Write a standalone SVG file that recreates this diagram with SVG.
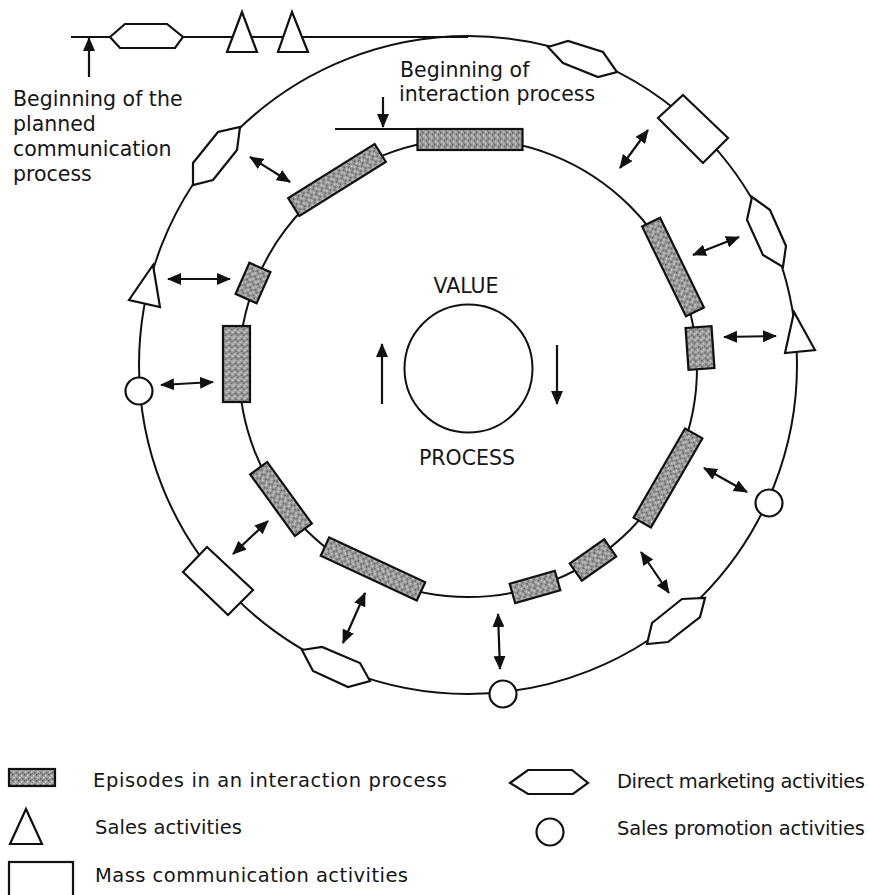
<svg xmlns="http://www.w3.org/2000/svg" width="870" height="895" viewBox="0 0 870 895">
  <defs>
    <style>
      .ring { fill: none; stroke: #111; stroke-width: 2; }
      .act { fill: #fff; stroke: #111; stroke-width: 2.2; stroke-linejoin: miter; }
      .ep { fill: url(#stipple); stroke: #111; stroke-width: 2.2; }
      .arr { fill: none; stroke: #111; stroke-width: 2.2; marker-start: url(#ah); marker-end: url(#ah); }
      .one { fill: none; stroke: #111; stroke-width: 2.2; marker-end: url(#ah); }
      .lbl { font-family: "DejaVu Sans", "Liberation Sans", sans-serif; font-size: 20.5px; fill: #161616; }
      .leg { font-family: "DejaVu Sans", "Liberation Sans", sans-serif; font-size: 19.5px; fill: #161616; }
      .mid { text-anchor: middle; }
    </style>
    <pattern id="stipple" width="6" height="6" patternUnits="userSpaceOnUse">
      <rect width="6" height="6" fill="#9c9c9c"/>
      <rect x="0" y="0" width="1.5" height="1.5" fill="#555"/>
      <rect x="3" y="1" width="1.5" height="1.5" fill="#d6d6d6"/>
      <rect x="1" y="3" width="1.5" height="1.5" fill="#d0d0d0"/>
      <rect x="4" y="4" width="1.5" height="1.5" fill="#5e5e5e"/>
      <rect x="2" y="5" width="1" height="1" fill="#767676"/>
    </pattern>
    <marker id="ah" viewBox="0 0 14 12" refX="13" refY="6" markerWidth="14" markerHeight="12" markerUnits="userSpaceOnUse" orient="auto-start-reverse">
      <path d="M0,0 L14,6 L0,12 z" fill="#111"/>
    </marker>
  </defs>

  <rect width="870" height="895" fill="#fff"/>

  <!-- rings -->
  <g id="rings">
    <line class="ring" x1="71" y1="37" x2="468" y2="37"/>
    <circle id="outer-ring" class="ring" cx="468" cy="365" r="329"/>
    <circle id="inner-ring" class="ring" cx="468" cy="368" r="229"/>
    <circle id="value-circle" class="ring" cx="468.5" cy="368.5" r="64"/>
  </g>

  <!-- connectors -->
  <g id="connectors">
    <line class="one" x1="89" y1="77" x2="89" y2="38"/>
    <line class="one" x1="383" y1="97" x2="383" y2="127"/>
    <line class="ring" x1="335" y1="129" x2="418" y2="129"/>
    <line class="one" x1="382" y1="404" x2="382" y2="344"/>
    <line class="one" x1="557" y1="345" x2="557" y2="404"/>
    <line class="arr" x1="250" y1="157" x2="290" y2="182"/>
    <line class="arr" x1="620" y1="168" x2="648" y2="130"/>
    <line class="arr" x1="168" y1="279" x2="230" y2="279"/>
    <line class="arr" x1="161" y1="385" x2="213" y2="382"/>
    <line class="arr" x1="693" y1="255" x2="739" y2="237"/>
    <line class="arr" x1="724" y1="337" x2="776" y2="336"/>
    <line class="arr" x1="704" y1="468" x2="747" y2="492"/>
    <line class="arr" x1="641" y1="552" x2="669" y2="593"/>
    <line class="arr" x1="498" y1="614" x2="500" y2="669"/>
    <line class="arr" x1="365" y1="593" x2="343" y2="643"/>
    <line class="arr" x1="233" y1="554" x2="268" y2="521"/>
  </g>

  <!-- episodes on the inner ring -->
  <g id="episodes">
    <g id="ep1"><rect class="ep" x="-10.5" y="-52.5" width="21" height="105" transform="translate(470 139.5) rotate(-90)"/></g>
    <g id="ep2"><rect class="ep" x="-10.5" y="-51" width="21" height="102" transform="translate(337 180) rotate(-122)"/></g>
    <g id="ep3"><rect class="ep" x="-11.5" y="-17" width="23" height="34" transform="translate(253 283) rotate(-156)"/></g>
    <g id="ep4"><rect class="ep" x="-13.5" y="-38" width="27" height="76" transform="translate(236.5 364) rotate(180)"/></g>
    <g id="ep5"><rect class="ep" x="-10.5" y="-38" width="21" height="76" transform="translate(281 499) rotate(144)"/></g>
    <g id="ep6"><rect class="ep" x="-10" y="-53" width="20" height="106" transform="translate(373 569) rotate(115)"/></g>
    <g id="ep7"><rect class="ep" x="-10" y="-23.5" width="20" height="47" transform="translate(535 587) rotate(74)"/></g>
    <g id="ep8"><rect class="ep" x="-10.5" y="-21" width="21" height="42" transform="translate(593 560) rotate(55)"/></g>
    <g id="ep9"><rect class="ep" x="-10" y="-51.5" width="20" height="103" transform="translate(668 478) rotate(30)"/></g>
    <g id="ep10"><rect class="ep" x="-13" y="-21" width="26" height="42" transform="translate(700 348) rotate(-4)"/></g>
    <g id="ep11"><rect class="ep" x="-10" y="-50" width="20" height="100" transform="translate(673 267) rotate(-26)"/></g>
  </g>

  <!-- planned communication activities -->
  <g id="activities">
    <g id="dm-top"><polygon class="act" points="110,37 125,24 167,24 183,37 175,48 120,48"/></g>
    <g id="sales-top1"><polygon class="act" points="242,12 257,52 227,52"/></g>
    <g id="sales-top2"><polygon class="act" points="292,12 308,52 278,52"/></g>
    <g id="dm-a"><polygon class="act" points="548,47 568,41 603,52 617,72 598,77 563,63"/></g>
    <g id="mass-b"><polygon class="act" points="683,95 728,138 703,163 658,118"/></g>
    <g id="dm-c"><polygon class="act" points="752,197 770,210 786,246 783,267 763,255 747,220"/></g>
    <g id="sales-d"><polygon class="act" points="794,312 815,350 785,353"/></g>
    <g id="promo-e"><circle class="act" cx="769" cy="503" r="13.5"/></g>
    <g id="dm-f"><polygon class="act" points="705,598 700,617 668,642 647,644 652,623 682,599"/></g>
    <g id="promo-g"><circle class="act" cx="503" cy="694" r="13.5"/></g>
    <g id="dm-h"><polygon class="act" points="302,650 322,647 360,663 370,681 348,687 313,671"/></g>
    <g id="mass-i"><polygon class="act" points="183,572 207,547 253,590 228,615"/></g>
    <g id="promo-j"><circle class="act" cx="139" cy="391" r="13.5"/></g>
    <g id="sales-k"><polygon class="act" points="153,265 160,307 129,300"/></g>
    <g id="dm-l"><polygon class="act" points="240,127 237,150 213,180 193,185 193,163 218,132"/></g>
  </g>

  <!-- labels -->
  <g id="labels">
    <text class="lbl" x="13" y="106">Beginning of the</text>
    <text class="lbl" x="13" y="131">planned</text>
    <text class="lbl" x="13" y="156">communication</text>
    <text class="lbl" x="13" y="181">process</text>
    <text class="lbl" x="400" y="77">Beginning of</text>
    <text class="lbl" x="399" y="101">interaction process</text>
    <text class="lbl mid" x="466" y="293">VALUE</text>
    <text class="lbl mid" x="467" y="465">PROCESS</text>
  </g>

  <!-- legend -->
  <g id="legend">
    <rect class="ep" x="9" y="769" width="46" height="17"/>
    <text class="leg" x="93" y="787" textLength="354" lengthAdjust="spacing">Episodes in an interaction process</text>
    <polygon class="act" points="26,809 42,844 10,844"/>
    <text class="leg" x="95" y="834" textLength="147" lengthAdjust="spacing">Sales activities</text>
    <rect class="act" x="9" y="862" width="64" height="45"/>
    <text class="leg" x="95" y="882" textLength="313" lengthAdjust="spacing">Mass communication activities</text>
    <polygon class="act" points="510,783 528,770 572,770 588,783 573,794 528,794"/>
    <text class="leg" x="617" y="788" textLength="248" lengthAdjust="spacing">Direct marketing activities</text>
    <circle class="act" cx="550" cy="832" r="13.5"/>
    <text class="leg" x="617" y="835" textLength="248" lengthAdjust="spacing">Sales promotion activities</text>
  </g>
</svg>
